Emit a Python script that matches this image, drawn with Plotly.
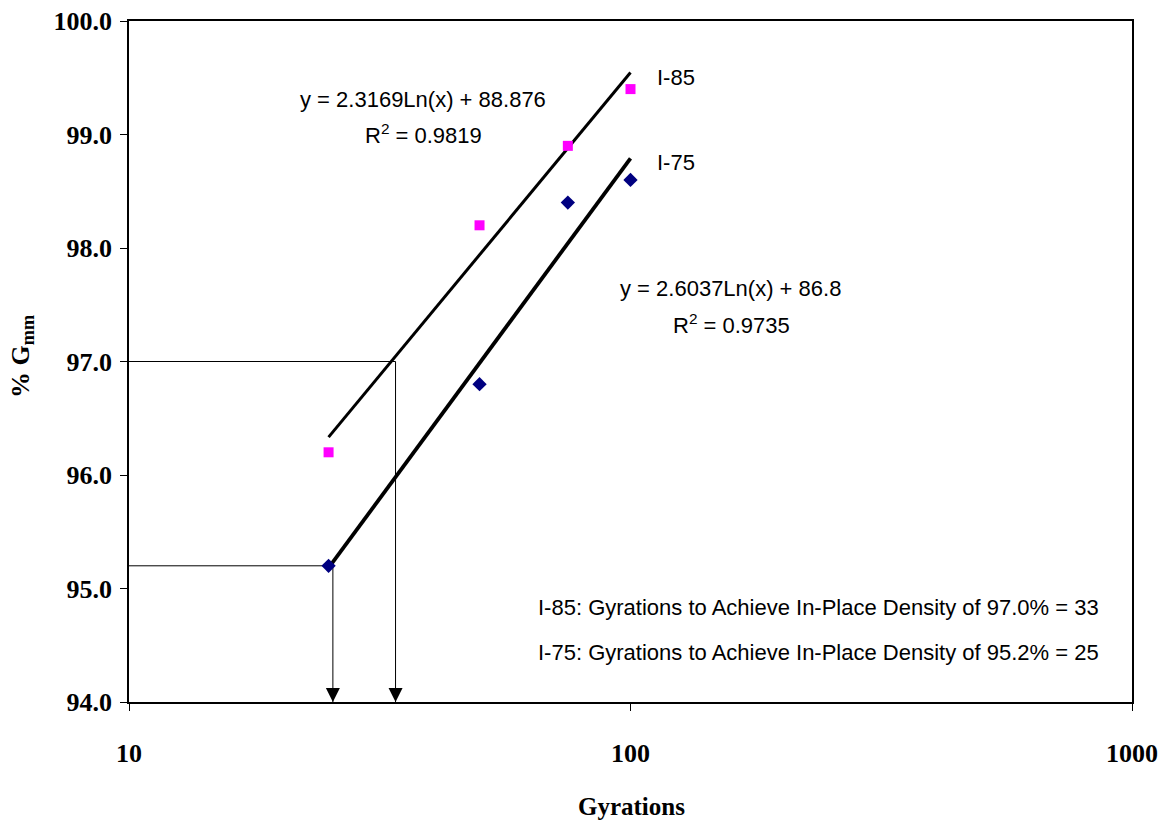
import numpy as np
import plotly.graph_objects as go

# Gyratory compaction data
gyrations = [25, 50, 75, 100]
gmm_i85 = [96.2, 98.2, 98.9, 99.4]
gmm_i75 = [95.2, 96.8, 98.4, 98.6]

# Logarithmic trendline coefficients: y = a*ln(x) + b
i85_a, i85_b, i85_r2 = 2.3169, 88.876, 0.9819
i75_a, i75_b, i75_r2 = 2.6037, 86.8, 0.9735

# Target in-place densities and corresponding gyration reading lines
i85_target, i85_gyr = 97.0, 34
i75_target, i75_gyr = 95.2, 25.5

x_ticks = [10, 100, 1000]
y_ticks = [94, 95, 96, 97, 98, 99, 100]
y_min, y_max = 94.0, 100.0

SERIF = "Liberation Serif, Times New Roman, serif"
SANS = "Liberation Sans, Arial, sans-serif"

# plot-area geometry in pixels
L, R, T, B = 129, 1132, 21, 702

fig = go.Figure()

# reading lines (horizontal from y axis to the trend, then down to the x axis)
for tgt, gyr in [(i85_target, i85_gyr), (i75_target, i75_gyr)]:
    fig.add_trace(go.Scatter(
        x=[10, gyr, gyr], y=[tgt, tgt, y_min], mode="lines",
        line=dict(color="black", width=1), showlegend=False, hoverinfo="skip"))

# arrowheads: the arrow-down symbol has its tip on the point itself
fig.add_trace(go.Scatter(
    x=[i85_gyr, i75_gyr], y=[y_min, y_min], mode="markers",
    marker=dict(symbol="arrow-down", size=14, color="black", line=dict(width=0)),
    showlegend=False, hoverinfo="skip", cliponaxis=False))

# trendlines
trend_x = np.array([gyrations[0], gyrations[-1]], dtype=float)
fig.add_trace(go.Scatter(
    x=trend_x, y=i85_a * np.log(trend_x) + i85_b, mode="lines",
    line=dict(color="black", width=3), showlegend=False))
fig.add_trace(go.Scatter(
    x=trend_x, y=i75_a * np.log(trend_x) + i75_b, mode="lines",
    line=dict(color="black", width=3.8), showlegend=False))

# measured points
fig.add_trace(go.Scatter(
    x=gyrations, y=gmm_i85, mode="markers", name="I-85",
    marker=dict(symbol="square", size=10, color="#FF00FF"), showlegend=False))
fig.add_trace(go.Scatter(
    x=gyrations, y=gmm_i75, mode="markers", name="I-75",
    marker=dict(symbol="diamond", size=11, color="#000080"), showlegend=False))

annotations = []
txt = dict(showarrow=False, font=dict(family=SANS, size=22, color="black"),
           xref="paper", yref="paper")


def px(xp, yp):
    # convert a pixel position in the figure to paper coordinates
    return (xp - L) / (R - L), (B - yp) / (B - T)


def add_text(text, xp, yp, anchor="center"):
    xx, yy = px(xp, yp)
    annotations.append(dict(txt, text=text, x=xx, y=yy, xanchor=anchor, yanchor="middle"))


add_text(f"y = {i85_a}Ln(x) + {i85_b}", 423, 99)
add_text(f"R<sup>2</sup> = {i85_r2}", 423, 134)
add_text(f"y = {i75_a}Ln(x) + {i75_b}", 730, 289)
add_text(f"R<sup>2</sup> = {i75_r2}", 731, 324)
add_text("I-85", 655, 78, "left")
add_text("I-75", 655, 162, "left")
add_text(f"I-85: Gyrations to Achieve In-Place Density of {i85_target:.1f}% = 33", 1101, 607, "right")
add_text(f"I-75: Gyrations to Achieve In-Place Density of {i75_target:.1f}% = 25", 1101, 652, "right")

# axis titles
xx, yy = px(631, 806)
annotations.append(dict(text="<b>Gyrations</b>", x=xx, y=yy, xref="paper", yref="paper",
                        showarrow=False, xanchor="center", yanchor="middle",
                        font=dict(family=SERIF, size=25, color="black")))
xx, yy = px(22, 357)
annotations.append(dict(text="<b>% G<sub>mm</sub></b>", x=xx, y=yy,
                        xref="paper", yref="paper", textangle=-90,
                        showarrow=False, xanchor="center", yanchor="middle",
                        font=dict(family=SERIF, size=26, color="black")))

axis_common = dict(showgrid=False, zeroline=False, showline=True, linecolor="black", linewidth=1.5,
                   mirror=True, ticks="outside", ticklen=7, tickcolor="black", automargin=False,
                   tickfont=dict(family=SERIF, size=26, color="black", weight="bold"))

fig.update_layout(
    width=1162, height=825,
    margin=dict(l=L, r=1162 - R, t=T, b=825 - B, autoexpand=False),
    paper_bgcolor="white", plot_bgcolor="white",
    annotations=annotations,
    showlegend=False,
    xaxis=dict(axis_common, type="log", range=[1, 3], tickvals=x_ticks,
               ticktext=[str(v) for v in x_ticks], ticklabelstandoff=20),
    yaxis=dict(axis_common, range=[y_min, y_max], tickvals=y_ticks, tickformat=".1f",
               ticklabelstandoff=3),
)

fig.write_html("out.html")
